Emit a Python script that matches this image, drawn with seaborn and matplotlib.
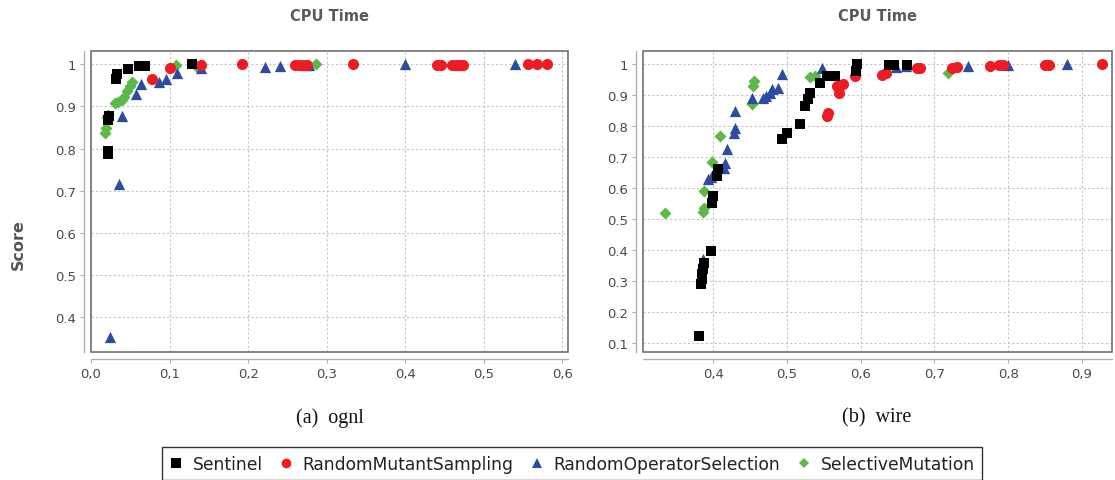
import numpy as np
import pandas as pd
import matplotlib
matplotlib.use("Agg")
import matplotlib.pyplot as plt
import seaborn as sns
from matplotlib.lines import Line2D
from matplotlib.patches import Rectangle
from matplotlib.ticker import FuncFormatter, FixedLocator

# ---------------- data: (a) ognl ----------------
ognl_sent_x = [0.021, 0.022, 0.022, 0.023, 0.032, 0.033, 0.047, 0.061, 0.069, 0.128]
ognl_sent_y = [0.787, 0.795, 0.868, 0.877, 0.966, 0.977, 0.988, 0.996, 0.997, 1.000]

ognl_rms_x = [0.0775, 0.101, 0.140, 0.192, 0.260, 0.265, 0.270, 0.275, 0.333,
              0.440, 0.445, 0.460, 0.465, 0.470, 0.473, 0.556, 0.567, 0.580]
ognl_rms_y = [0.966, 0.992, 0.998, 1.000, 0.999, 0.999, 0.999, 0.999, 1.000,
              0.999, 0.999, 0.999, 0.999, 0.999, 0.999, 1.000, 1.000, 1.000]

ognl_ros_x = [0.0245, 0.036, 0.039, 0.0575, 0.063, 0.087, 0.096, 0.109, 0.140,
              0.222, 0.241, 0.274, 0.278, 0.399, 0.468, 0.540]
ognl_ros_y = [0.354, 0.716, 0.877, 0.929, 0.953, 0.957, 0.964, 0.980, 0.992,
              0.994, 0.997, 0.998, 0.998, 1.000, 0.999, 1.000]

ognl_sm_x = [0.018, 0.019, 0.020, 0.022, 0.030, 0.034, 0.040, 0.042, 0.046,
             0.049, 0.052, 0.108, 0.134, 0.286]
ognl_sm_y = [0.836, 0.848, 0.874, 0.880, 0.909, 0.911, 0.915, 0.922, 0.937,
             0.949, 0.958, 0.998, 0.997, 1.000]

# ---------------- data: (b) wire ----------------
wire_sent_x = [0.381, 0.383, 0.384, 0.385, 0.386, 0.388, 0.397, 0.398, 0.400,
               0.405, 0.407, 0.493, 0.500, 0.518, 0.524, 0.529, 0.531, 0.545,
               0.554, 0.565, 0.594, 0.595, 0.638, 0.645, 0.663]
wire_sent_y = [0.124, 0.290, 0.306, 0.323, 0.339, 0.358, 0.398, 0.554, 0.575,
               0.640, 0.661, 0.758, 0.780, 0.806, 0.866, 0.887, 0.909, 0.941,
               0.962, 0.962, 0.978, 1.000, 0.998, 0.998, 0.998]

wire_rms_x = [0.554, 0.555, 0.570, 0.568, 0.576, 0.592, 0.629, 0.634, 0.676,
              0.680, 0.724, 0.731, 0.775, 0.788, 0.793, 0.850, 0.855, 0.928]
wire_rms_y = [0.834, 0.842, 0.909, 0.930, 0.937, 0.961, 0.966, 0.972, 0.987,
              0.987, 0.987, 0.990, 0.994, 0.998, 0.998, 0.998, 0.999, 1.000]

wire_ros_x = [0.386, 0.393, 0.397, 0.415, 0.416, 0.418, 0.428, 0.429, 0.430,
              0.452, 0.468, 0.472, 0.477, 0.479, 0.488, 0.493, 0.547, 0.648,
              0.661, 0.745, 0.800, 0.880]
wire_ros_y = [0.371, 0.629, 0.637, 0.667, 0.683, 0.726, 0.780, 0.796, 0.849,
              0.892, 0.892, 0.898, 0.909, 0.919, 0.925, 0.968, 0.989, 0.992,
              0.995, 0.996, 0.997, 1.000]

wire_sm_x = [0.334, 0.386, 0.387, 0.388, 0.398, 0.409, 0.453, 0.454, 0.455,
             0.531, 0.538, 0.719]
wire_sm_y = [0.522, 0.524, 0.538, 0.591, 0.685, 0.769, 0.871, 0.930, 0.946,
             0.960, 0.962, 0.971]

methods = ["Sentinel", "RandomMutantSampling", "RandomOperatorSelection", "SelectiveMutation"]
colors = {"Sentinel": "#000000", "RandomMutantSampling": "#EC1C24",
          "RandomOperatorSelection": "#2B4C9F", "SelectiveMutation": "#5DB947"}
markers = {"Sentinel": "s", "RandomMutantSampling": "o",
           "RandomOperatorSelection": "^", "SelectiveMutation": "D"}
sizes = {"Sentinel": 60, "RandomMutantSampling": 64,
         "RandomOperatorSelection": 66, "SelectiveMutation": 38}

left_xticks = [0.0, 0.1, 0.2, 0.3, 0.4, 0.5, 0.6]
left_yticks = [0.4, 0.5, 0.6, 0.7, 0.8, 0.9, 1.0]
right_xticks = [0.4, 0.5, 0.6, 0.7, 0.8, 0.9]
right_yticks = [0.1, 0.2, 0.3, 0.4, 0.5, 0.6, 0.7, 0.8, 0.9, 1.0]

def frame(xs):
    rows = []
    for m, (x, y) in zip(methods, xs):
        rows.append(pd.DataFrame({"time": x, "score": y, "method": m}))
    return pd.concat(rows, ignore_index=True)

ognl = frame([(ognl_sent_x, ognl_sent_y), (ognl_rms_x, ognl_rms_y),
              (ognl_ros_x, ognl_ros_y), (ognl_sm_x, ognl_sm_y)])
wire = frame([(wire_sent_x, wire_sent_y), (wire_rms_x, wire_rms_y),
              (wire_ros_x, wire_ros_y), (wire_sm_x, wire_sm_y)])

sns.set_theme(style="white")
plt.rcParams["font.family"] = ["DejaVu Sans"]

W, H = 1115, 481
fig = plt.figure(figsize=(W / 100, H / 100), dpi=100)

def ax_rect(x0, x1, y0, y1):
    return [x0 / W, 1 - y1 / H, (x1 - x0) / W, (y1 - y0) / H]

axL = fig.add_axes(ax_rect(91, 568, 52, 353))
axR = fig.add_axes(ax_rect(643, 1112, 52, 353))

gray_txt = "#4a4a4a"

def style_axis(ax, data, xlim, ylim, xticks, yticks):
    # draw series in reverse order so Sentinel is on top
    for m in reversed(methods):
        sub = data[data["method"] == m]
        sns.scatterplot(data=sub, x="time", y="score", ax=ax, color=colors[m],
                        marker=markers[m], s=sizes[m], linewidth=0, legend=False,
                        zorder=3)
    ax.set_xlim(*xlim)
    ax.set_ylim(*ylim)
    ax.xaxis.set_major_locator(FixedLocator(xticks))
    ax.yaxis.set_major_locator(FixedLocator(yticks))
    ax.xaxis.set_major_formatter(FuncFormatter(lambda v, p: f"{v:.1f}".replace(".", ",")))
    ax.yaxis.set_major_formatter(FuncFormatter(lambda v, p: "1" if abs(v - 1) < 1e-9 else f"{v:.1f}"))
    ax.grid(True, color="#c4c4c4", linestyle=(0, (2, 2)), linewidth=0.8, zorder=0)
    ax.set_axisbelow(True)
    ax.set_xlabel("")
    ax.set_ylabel("")
    for s in ["top", "right"]:
        ax.spines[s].set_visible(False)
    for s in ["left", "bottom"]:
        ax.spines[s].set_position(("outward", 5))
        ax.spines[s].set_color("#b0b0b0")
        ax.spines[s].set_linewidth(1.0)
    ax.add_patch(Rectangle((0, 0), 1, 1, transform=ax.transAxes, fill=False,
                           edgecolor="#707070", linewidth=1.2, zorder=5, clip_on=False))
    ax.tick_params(axis="both", which="major", direction="out", length=3, width=0.8,
                   color="#b0b0b0", labelcolor=gray_txt, labelsize=9.5,
                   left=True, bottom=True, pad=3)
    ax.set_title("CPU Time", color="#5a5a5a", fontsize=10.5, fontweight="bold", pad=22)

style_axis(axL, ognl, (0.0, 0.607), (0.3175, 1.0315), left_xticks, left_yticks)
style_axis(axR, wire, (0.3046, 0.941), (0.072, 1.043), right_xticks, right_yticks)

fig.text(18 / W, 1 - 245 / H, "Score", rotation=90, ha="center", va="center",
         color="#555555", fontsize=11.5, fontweight="bold")

fig.text(330 / W, 1 - 418 / H, "(a)  ognl", ha="center", va="center",
         family="Liberation Serif", fontsize=14.5, color="#111111")
fig.text(877 / W, 1 - 418 / H, "(b)  wire", ha="center", va="center",
         family="Liberation Serif", fontsize=14.5, color="#111111")

handles = [Line2D([], [], linestyle="none", marker=markers[m], color=colors[m],
                  markersize=(7 if m != "SelectiveMutation" else 5.5), markeredgewidth=0)
           for m in methods]
leg = fig.legend(handles, methods, loc="upper center", ncol=4,
                 bbox_to_anchor=(572 / W, 1 - 448 / H), frameon=True, fancybox=False,
                 fontsize=12.3, handlelength=0.8, handletextpad=0.55, columnspacing=1.0,
                 borderpad=0.45, borderaxespad=0, labelcolor="#222222")
leg.get_frame().set_edgecolor("black")
leg.get_frame().set_linewidth(1.0)

fig.savefig("out.png", dpi=100)
